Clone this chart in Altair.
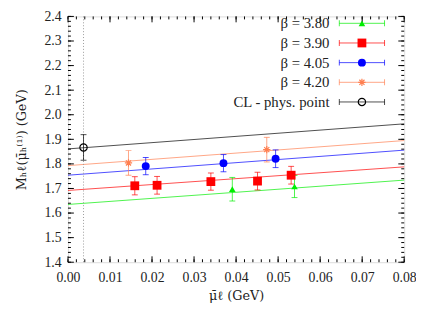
import altair as alt
import pandas as pd
import numpy as np

W, H = 342, 250
XMIN, XMAX = 0.0, 0.08
YMIN, YMAX = 1.4, 2.4
TOP = 6

series_names = ["β = 3.80", "β = 3.90", "β = 4.05", "β = 4.20", "CL - phys. point"]
series_colors = ["#00ee00", "#ff0000", "#0000ff", "#ff7f50", "#000000"]

# data points per beta: x, y, err
b380_x = [0.0391, 0.0539]
b380_y = [1.697, 1.708]
b380_e = [0.048, 0.045]

b390_x = [0.0159, 0.0212, 0.0340, 0.0451, 0.0531]
b390_y = [1.711, 1.713, 1.728, 1.730, 1.754]
b390_e = [0.037, 0.036, 0.035, 0.036, 0.036]

b405_x = [0.0185, 0.0370, 0.0494]
b405_y = [1.791, 1.803, 1.821]
b405_e = [0.035, 0.035, 0.036]

b420_x = [0.0144, 0.0473]
b420_y = [1.804, 1.858]
b420_e = [0.050, 0.050]

cl_x = [0.0037]
cl_y = [1.867]
cl_e = [0.052]

# fit lines: values at x=0 and x=0.08
fit_x = [0.0, 0.08]
fit_380 = [1.635, 1.734]
fit_390 = [1.692, 1.788]
fit_405 = [1.754, 1.856]
fit_420 = [1.793, 1.895]
fit_cl = [1.861, 1.963]

phys_x = 0.0037

x_ticks = [0.00, 0.01, 0.02, 0.03, 0.04, 0.05, 0.06, 0.07, 0.08]
y_ticks = [1.4, 1.5, 1.6, 1.7, 1.8, 1.9, 2.0, 2.1, 2.2, 2.3, 2.4]

pts = []
for name, xs_, ys_, es_ in [
    (series_names[0], b380_x, b380_y, b380_e),
    (series_names[1], b390_x, b390_y, b390_e),
    (series_names[2], b405_x, b405_y, b405_e),
    (series_names[3], b420_x, b420_y, b420_e),
    (series_names[4], cl_x, cl_y, cl_e),
]:
    for x, y, e in zip(xs_, ys_, es_):
        pts.append({"s": name, "x": x, "y": y, "lo": y - e, "hi": y + e})
pts = pd.DataFrame(pts)

fits = []
for name, vals in zip(series_names, [fit_380, fit_390, fit_405, fit_420, fit_cl]):
    for x, y in zip(fit_x, vals):
        fits.append({"s": name, "x": x, "y": y})
fits = pd.DataFrame(fits)

xs = alt.Scale(domain=[XMIN, XMAX], nice=False, zero=False)
ys = alt.Scale(domain=[YMIN, YMAX], nice=False, zero=False)
col = alt.Scale(domain=series_names, range=series_colors)

x_axis = alt.Axis(
    values=x_ticks, format=".2f", labelOverlap=False, labelFlush=False,
    ticks=False, domain=False, grid=False, labelFont="Liberation Serif",
    labelFontSize=14, labelColor="#222", labelPadding=9,
    title="μ̄ℓ (GeV)", titleFont="DejaVu Serif", titleFontSize=13,
    titleFontWeight="normal", titleColor="#222", titlePadding=5)
y_axis = alt.Axis(
    values=y_ticks, format=".1f", labelOverlap=False, labelFlush=False,
    ticks=False, domain=False, grid=False, labelFont="Liberation Serif",
    labelFontSize=14, labelColor="#222", labelPadding=7,
    title="Mₕℓ(μ̄ₕ⁽¹⁾) (GeV)", titleFont="DejaVu Serif", titleFontSize=13,
    titleFontWeight="normal", titleColor="#222", titlePadding=16)

def XN(f):
    return alt.X(f, scale=xs, axis=x_axis)

def YN(f):
    return alt.Y(f, scale=ys, axis=y_axis)

base_pts = alt.Chart(pts)
C = alt.Color("s:N", scale=col, legend=None)

lines = alt.Chart(fits).mark_line(strokeWidth=1, opacity=0.7).encode(
    x=XN("x:Q"), y=YN("y:Q"), color=C, detail="s:N")

vline = alt.Chart(pd.DataFrame({"x": [phys_x]})).mark_rule(
    color="#999", strokeDash=[1, 2], strokeWidth=1).encode(x=XN("x:Q"))

err = base_pts.mark_rule(strokeWidth=1, opacity=0.7).encode(
    x=XN("x:Q"), y=YN("lo:Q"), y2="hi:Q", color=C)
cap_lo = base_pts.mark_tick(orient="horizontal", size=6, thickness=1, opacity=0.7).encode(
    x=XN("x:Q"), y=YN("lo:Q"), color=C)
cap_hi = base_pts.mark_tick(orient="horizontal", size=6, thickness=1, opacity=0.7).encode(
    x=XN("x:Q"), y=YN("hi:Q"), color=C)

star = "M-1,0L1,0M0,-1L0,1M-0.7,-0.7L0.7,0.7M-0.7,0.7L0.7,-0.7"
shapes = ["triangle-up", "square", "circle", star, "circle"]
fills = [True, True, True, False, False]
sizes = [45, 80, 65, 55, 55]

markers = []
for name, shp, fl, sz, cc in zip(series_names, shapes, fills, sizes, series_colors):
    m = base_pts.transform_filter(alt.datum.s == name).mark_point(
        shape=shp, filled=fl, size=sz, color=cc, opacity=1,
        strokeWidth=1.2).encode(x=XN("x:Q"), y=YN("y:Q"))
    markers.append(m)

# inward ticks on all four sides
maj_x = pd.DataFrame({"x": x_ticks})
min_x = pd.DataFrame({"x": np.round(np.arange(0, 0.0801, 0.002), 4)})
maj_y = pd.DataFrame({"y": y_ticks})
min_y = pd.DataFrame({"y": np.round(np.arange(1.4, 2.401, 0.02), 3)})

tick_layers = []
for df, L in [(maj_x, 6), (min_x, 3)]:
    tick_layers.append(alt.Chart(df).mark_rule(color="#000", strokeWidth=1).encode(
        x=XN("x:Q"), y=alt.value(H), y2=alt.value(H - L)))
    tick_layers.append(alt.Chart(df).mark_rule(color="#000", strokeWidth=1).encode(
        x=XN("x:Q"), y=alt.value(0), y2=alt.value(L)))
for df, L in [(maj_y, 6), (min_y, 3)]:
    tick_layers.append(alt.Chart(df).mark_rule(color="#000", strokeWidth=1).encode(
        y=YN("y:Q"), x=alt.value(0), x2=alt.value(L)))
    tick_layers.append(alt.Chart(df).mark_rule(color="#000", strokeWidth=1).encode(
        y=YN("y:Q"), x=alt.value(W), x2=alt.value(W - L)))

# manual legend (pixel layout)
leg = pd.DataFrame({
    "s": series_names,
    "py": [7 + 20 * i for i in range(len(series_names))],
})
leg["tx"] = 266
leg["x1"] = 276
leg["x2"] = 322
leg["mx"] = 299
PX = lambda f: alt.X(f, scale=None, axis=None)
PY = alt.Y("py:Q", scale=None, axis=None)

leg_text = alt.Chart(leg).mark_text(align="right", baseline="middle",
                                    font="Liberation Serif", fontSize=15,
                                    color="#222").encode(
    x=PX("tx:Q"), y=PY, text="s:N")
leg_line = alt.Chart(leg).mark_rule(strokeWidth=1, opacity=0.7).encode(
    x=PX("x1:Q"), x2="x2:Q", y=PY, color=C)
leg_cap1 = alt.Chart(leg).mark_tick(orient="vertical", size=6, thickness=1, opacity=0.7).encode(
    x=PX("x1:Q"), y=PY, color=C)
leg_cap2 = alt.Chart(leg).mark_tick(orient="vertical", size=6, thickness=1, opacity=0.7).encode(
    x=PX("x2:Q"), y=PY, color=C)
leg_marks = []
for name, shp, fl, sz, cc in zip(series_names, shapes, fills, sizes, series_colors):
    leg_marks.append(alt.Chart(leg).transform_filter(alt.datum.s == name).mark_point(
        shape=shp, filled=fl, size=sz, color=cc, opacity=1, strokeWidth=1.2).encode(
        x=PX("mx:Q"), y=PY))

chart = alt.layer(
    lines, vline, err, cap_lo, cap_hi, *markers, *tick_layers,
    leg_line, leg_cap1, leg_cap2, *leg_marks, leg_text
).properties(
    width=W, height=H,
    autosize=alt.AutoSizeParams(type="none"),
    padding={"left": 61, "top": TOP, "right": 12, "bottom": 44},
).configure_view(stroke="#000", strokeWidth=1).configure(background="white")

chart.save("out.html", embed_options={"renderer": "svg", "actions": False})
